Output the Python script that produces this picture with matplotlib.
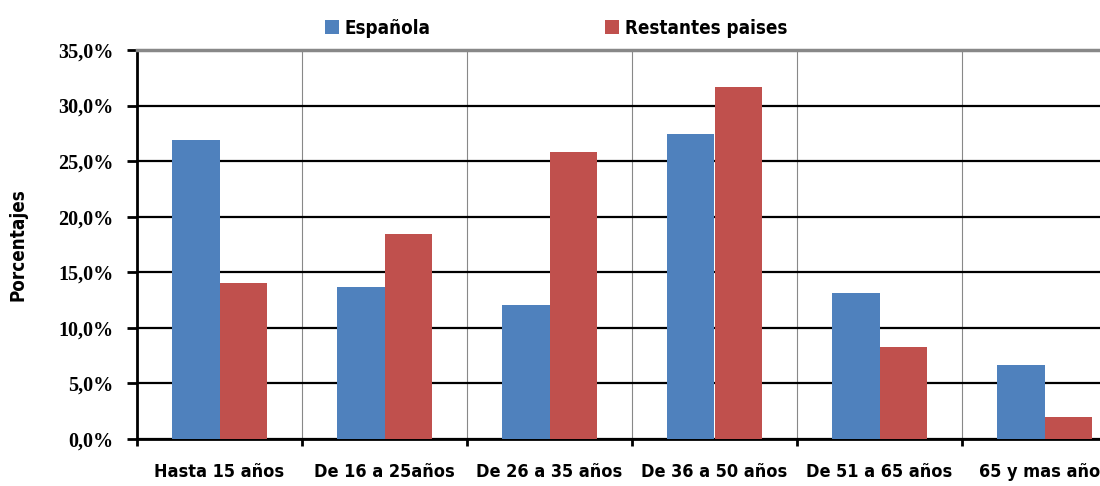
import matplotlib
matplotlib.use("Agg")
import matplotlib.pyplot as plt
import numpy as np
from matplotlib.ticker import FuncFormatter

categories = ["Hasta 15 años", "De 16 a 25años", "De 26 a 35 años",
              "De 36 a 50 años", "De 51 a 65 años", "65 y mas años"]
espanola = [26.9, 13.7, 12.1, 27.4, 13.1, 6.7]
restantes = [14.0, 18.4, 25.8, 31.7, 8.3, 2.0]

BLUE = "#4f81bd"
RED = "#c0504d"

fig = plt.figure(figsize=(11, 4.86), dpi=100)
ax = fig.add_axes([137 / 1100, 47 / 486, 990 / 1100, 389 / 486])

x = np.arange(len(categories))
w = 0.285
ax.bar(x - w / 2, espanola, w, color=BLUE, label="Española", zorder=3)
ax.bar(x + w / 2, restantes, w, color=RED, label="Restantes paises", zorder=3)

ax.set_xlim(-0.5, len(categories) - 0.5)
ax.set_ylim(0, 35)
ax.set_yticks(np.arange(0, 36, 5))
ax.yaxis.set_major_formatter(FuncFormatter(lambda v, p: f"{v:.1f}%".replace(".", ",")))

# category boundaries: vertical grid + small ticks below axis
ax.set_xticks(x)
ax.set_xticklabels(categories, fontsize=13, fontweight="bold", fontstretch="condensed")
ax.set_xticks(np.arange(-0.5, len(categories), 1), minor=True)
ax.tick_params(axis="x", which="major", length=0, pad=17)
ax.tick_params(axis="x", which="minor", length=5, width=2, direction="out", color="black")
ax.xaxis.grid(True, which="minor", color="#888888", linewidth=0.8, zorder=0)
ax.yaxis.grid(True, color="black", linewidth=1.6, zorder=1)

for lbl in ax.get_yticklabels():
    lbl.set_fontfamily("Liberation Serif")
    lbl.set_fontweight("bold")
    lbl.set_fontsize(14.5)
ax.tick_params(axis="y", length=7, width=2, pad=10)

ax.spines["left"].set_linewidth(2)
ax.spines["bottom"].set_linewidth(2)
ax.spines["top"].set_color("#888888")
ax.spines["top"].set_linewidth(2.5)
ax.spines["right"].set_visible(False)

ax.set_ylabel("Porcentajes", fontsize=13.5, fontweight="bold", fontstretch="condensed", labelpad=22)

fig.legend(loc="center", bbox_to_anchor=(556 / 1100, 1 - 28 / 486), ncol=2, frameon=False,
           prop={"weight": "bold", "size": 13.5, "stretch": "condensed"},
           handlelength=0.75, handleheight=0.75, handletextpad=0.3, columnspacing=9.3)

fig.savefig("out.png", dpi=100)
